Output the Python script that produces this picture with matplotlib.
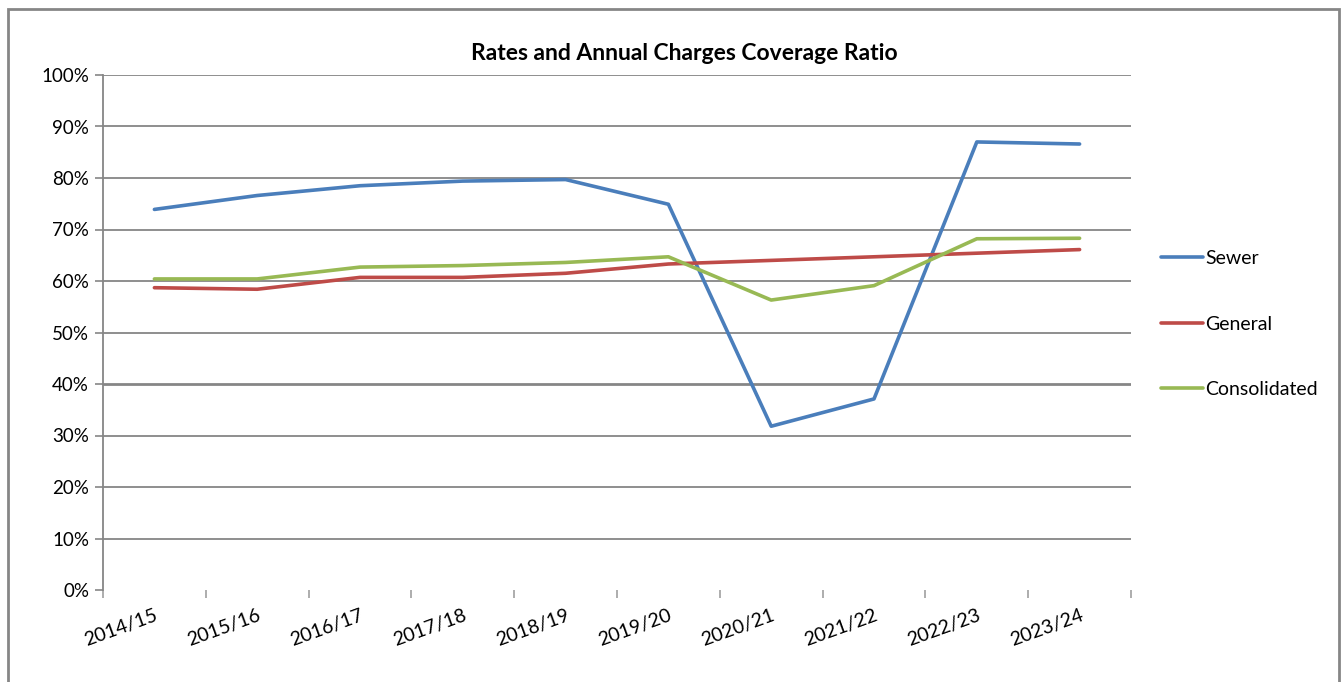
import matplotlib
matplotlib.use("Agg")
import matplotlib.pyplot as plt
from matplotlib.patches import Rectangle
from matplotlib.ticker import FixedLocator, PercentFormatter

plt.rcParams["font.family"] = ["Lato", "DejaVu Sans"]

years = ["2014/15", "2015/16", "2016/17", "2017/18", "2018/19",
         "2019/20", "2020/21", "2021/22", "2022/23", "2023/24"]
sewer = [73.9, 76.6, 78.5, 79.4, 79.7, 74.9, 31.8, 37.1, 87.0, 86.6]
general = [58.7, 58.4, 60.7, 60.7, 61.5, 63.3, 64.0, 64.7, 65.4, 66.1]
consolidated = [60.4, 60.4, 62.7, 63.0, 63.6, 64.7, 56.3, 59.1, 68.2, 68.3]

W, H = 1344, 682
fig = plt.figure(figsize=(W / 100, H / 100), dpi=100)
ax = fig.add_axes([103 / W, (H - 590) / H, 1028 / W, 515 / H])

x = list(range(len(years)))
ax.plot(x, sewer, color="#4a7ebb", lw=2.6, label="Sewer", solid_capstyle="round")
ax.plot(x, general, color="#be4b48", lw=2.6, label="General", solid_capstyle="round")
ax.plot(x, consolidated, color="#98b954", lw=2.6, label="Consolidated", solid_capstyle="round")

ax.set_xlim(-0.5, len(years) - 0.5)
ax.set_ylim(0, 100)
ax.set_yticks(range(0, 101, 10))
ax.yaxis.set_major_formatter(PercentFormatter(decimals=0))
for yv in range(10, 101, 10):
    ax.axhline(yv, color="#868686", lw=2.0 if yv == 40 else 1.3, zorder=0)

ax.set_xticks(x)
ax.set_xticklabels(years, rotation=20, ha="right", rotation_mode="anchor")
ax.xaxis.set_minor_locator(FixedLocator([i - 0.5 for i in range(len(years) + 1)]))
ax.tick_params(axis="x", which="major", length=0, pad=12, labelsize=14)
ax.tick_params(axis="x", which="minor", length=6, color="#a0a0a0", width=1.2)
ax.tick_params(axis="y", length=6, color="#868686", width=1.2, labelsize=13.5, pad=4)

for s in ["top", "right", "bottom"]:
    ax.spines[s].set_visible(False)
ax.spines["left"].set_color("#868686")
ax.spines["left"].set_linewidth(1.3)

fig.text(684 / W, 1 - 53 / H, "Rates and Annual Charges Coverage Ratio",
         ha="center", va="center", fontsize=16.5, fontweight="bold")

fig.legend(loc="center left", bbox_to_anchor=(1143 / W, 1 - 324 / H),
           frameon=False, fontsize=14, handlelength=2.2, handletextpad=0.1,
           labelspacing=2.5)

fig.patches.append(Rectangle((8 / W, -0.05), 1331 / W, 1.05 - 9 / H,
                             transform=fig.transFigure, fill=False,
                             edgecolor="#868686", lw=2))

fig.savefig("out.png", dpi=100, facecolor="white")
